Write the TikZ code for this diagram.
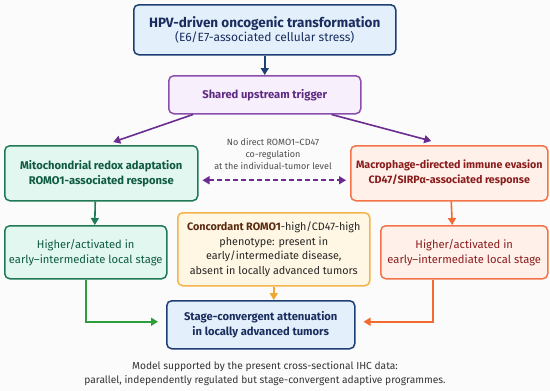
\documentclass[tikz,border=0pt]{standalone}
\usepackage{fontspec}
\setmainfont{Fira Sans}
\usetikzlibrary{arrows.meta,calc}
\definecolor{navyB}{HTML}{1E3F73}
\definecolor{navyF}{HTML}{E3F0FB}
\definecolor{navyT}{HTML}{1A2D5E}
\definecolor{purB}{HTML}{8A4FAE}
\definecolor{purF}{HTML}{F7EFFB}
\definecolor{purT}{HTML}{5E2A84}
\definecolor{purA}{HTML}{6A2C91}
\definecolor{grnB}{HTML}{1F7A55}
\definecolor{grnF}{HTML}{E1F7F0}
\definecolor{grnT}{HTML}{0F5A40}
\definecolor{grnA}{HTML}{2E9E3A}
\definecolor{orgB}{HTML}{F27448}
\definecolor{orgF}{HTML}{FFF1EA}
\definecolor{orgT}{HTML}{8A1C1C}
\definecolor{orgA}{HTML}{F26A30}
\definecolor{ylwB}{HTML}{F5B34C}
\definecolor{ylwF}{HTML}{FFF7E3}
\definecolor{ylwT}{HTML}{5A2A10}
\definecolor{ylwA}{HTML}{F0A830}
\definecolor{capT}{HTML}{333333}
\definecolor{bgC}{HTML}{FBFBFB}
\begin{document}
\begin{tikzpicture}[x=1pt,y=-1pt,
  box/.style={rounded corners=5pt, line width=1.5pt, align=center, inner sep=0pt, anchor=north west},
  tip/.style={-{Triangle[length=7pt,width=8pt]}, line width=1.6pt},
  font=\fontsize{11.2}{15}\selectfont]
\fill[bgC] (0,0) rectangle (550,391);
\useasboundingbox (0,0) rectangle (550,391);
% boxes
\node[box, draw=navyB, fill=navyF, text=navyT, minimum width=262pt, minimum height=50pt] (top) at (133,4)
  {{\fontsize{13.5}{17}\selectfont\bfseries HPV-driven oncogenic transformation}\\[-1pt]{\fontsize{12}{14}\selectfont (E6/E7-associated cellular stress)}};
\node[box, draw=purB, fill=purF, text=purT, minimum width=192pt, minimum height=38pt] (trig) at (168,75)
  {\bfseries Shared upstream trigger};
\node[box, draw=grnB, fill=grnF, text=grnT, minimum width=193pt, minimum height=55pt] (mito) at (4,145)
  {\bfseries Mitochondrial redox adaptation\\\bfseries ROMO1-associated response};
\node[box, draw=orgB, fill=orgF, text=orgT, minimum width=197pt, minimum height=55pt, font=\fontsize{10.7}{15}\selectfont] (macro) at (350,145)
  {\bfseries Macrophage-directed immune evasion\\\bfseries CD47/SIRPα-associated response};
\node[box, draw=grnB, fill=grnF, text=grnT, minimum width=162pt, minimum height=53pt] (glow) at (4,225)
  {Higher/activated in\\early–intermediate local stage};
\node[box, draw=orgB, fill=orgF, text=orgT, minimum width=167pt, minimum height=53pt] (olow) at (380,225)
  {Higher/activated in\\early–intermediate local stage};
\node[box, draw=ylwB, fill=ylwF, text=black!85, minimum width=192pt, minimum height=73pt, font=\fontsize{10.8}{14.5}\selectfont] (conc) at (177,212)
  {\textcolor{ylwT}{\bfseries Concordant ROMO1}-high/CD47-high\\phenotype: present in\\early/intermediate disease,\\absent in locally advanced tumors};
\node[box, draw=navyB, fill=navyF, text=navyT, minimum width=188pt, minimum height=48pt] (att) at (166,300)
  {\bfseries Stage-convergent attenuation\\\bfseries in locally advanced tumors};
% labels
\node[align=center, text=black!70, font=\fontsize{9}{12}\selectfont] (nodir) at (273,154)
  {No direct ROMO1–CD47\\co-regulation\\at the individual-tumor level};
\node[align=center, text=capT, font=\fontsize{10.2}{14}\selectfont] (cap) at (265,374)
  {Model supported by the present cross-sectional IHC data:\\parallel, independently regulated but stage-convergent adaptive programmes.};
% connectors
\draw[tip, navyB] (top.south) -- (trig.north);
\draw[tip, purA] ($(trig.south west)+(25,0)$) -- ($(mito.north)+(12,-3)$);
\draw[tip, purA] ($(trig.south east)+(-30,0)$) -- ($(macro.north)+(-18,-4)$);
\draw[{Triangle[length=7pt,width=8pt]}-{Triangle[length=7pt,width=8pt]}, line width=1.6pt, purA, dashed, dash pattern=on 5pt off 3pt]
  ([xshift=4pt,yshift=-7pt]mito.east) -- ([xshift=-4pt,yshift=-7pt]macro.west);
\draw[tip, grnB] ($(mito.south)+(-6,0)$) -- ($(glow.north)+(9,0)$);
\draw[tip, orgA] ($(macro.south)+(2,0)$) -- ($(olow.north)+(-12,0)$);
\draw[tip, ylwA] (conc.south) -- ($(att.north)+(13,0)$);
\draw[tip, grnA, shorten >=8pt] (glow.south) |- ($(att.west)+(0,-3)$);
\draw[tip, orgA, shorten >=8pt] ($(olow.south)+(-31,0)$) |- ($(att.east)+(0,-3)$);
\end{tikzpicture}
\end{document}
